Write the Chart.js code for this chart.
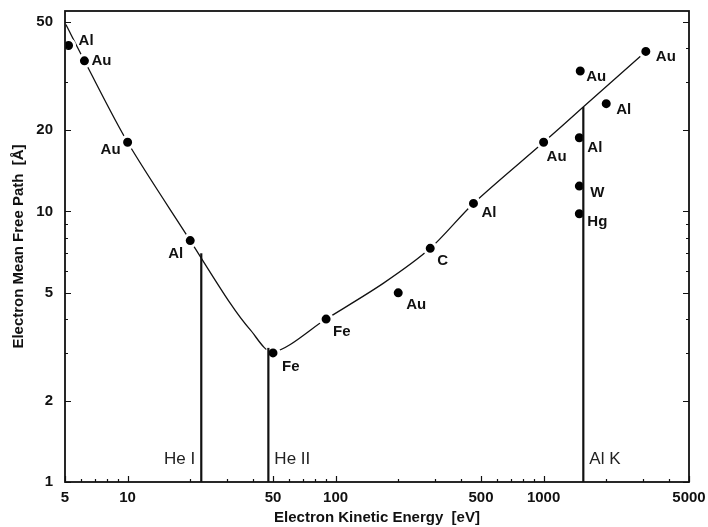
<!DOCTYPE html>
<html>
<head>
<meta charset="utf-8">
<script src="https://cdn.jsdelivr.net/npm/chart.js@4"></script>
<style>
  html, body { margin: 0; padding: 0; background: #fff; }
  #wrap { width: 708px; height: 527px; }
</style>
</head>
<body>
<div id="wrap"><canvas id="c"></canvas></div>
<script>
// universal curve (energy in eV, mean free path in Å)
const curveEnergy = [5.05, 6.2, 10, 20, 31, 39, 50, 90, 170, 285, 460, 1000, 1550, 3100];
const curvePath = [49, 36, 18, 7.8, 4.6, 3.64, 3.02, 4.0, 5.43, 7.3, 10.7, 18, 24.3, 39];

// measured values
const pointEnergy = [5.2, 6.2, 10, 20, 50, 90, 200, 285, 460, 1000, 1500, 2000, 1485, 1485, 1485, 3100];
const pointPath = [41, 36, 18, 7.8, 3.0, 4.0, 5.0, 7.3, 10.7, 18, 33, 25, 18.7, 12.4, 9.8, 39];
const pointElement = ["Al", "Au", "Au", "Al", "Fe", "Fe", "Au", "C", "Al", "Au", "Au", "Al", "Al", "W", "Hg", "Au"];

// photon sources
const sourceNames = ["He I", "He II", "Al K"];
const sourceEnergy = [22.6, 47.5, 1552];
const sourceTop = [7.0, 3.13, 24.3];

const xTicks = [5, 6, 7, 8, 9, 10, 20, 30, 40, 50, 60, 70, 80, 90, 100, 200, 300, 400, 500, 600, 700, 800, 900, 1000, 2000, 3000, 4000, 5000];
const xLabels = [5, 10, 50, 100, 500, 1000, 5000];
const yTicks = [1, 2, 3, 4, 5, 6, 7, 8, 9, 10, 20, 30, 40, 50];
const yLabels = [1, 2, 5, 10, 20, 50];

// label placement next to each dot: [dx, dy, align]
const labelOffsets = [
  [10, -5, "left"], [7, 0, "left"], [-7, 8, "right"], [-7, 13, "right"],
  [9, 14, "left"], [7, 13, "left"], [8, 12, "left"], [7, 13, "left"],
  [8, 9, "left"], [3, 15, "left"], [6, 6, "left"], [10, 6, "left"],
  [8, 10, "left"], [11, 7, "left"], [8, 8, "left"], [10, 5, "left"]
];

const FONT = '"Liberation Sans", Arial, sans-serif';
Chart.defaults.font.family = FONT;
Chart.defaults.color = "#111";

const xy = (xs, ys) => xs.map((x, i) => ({ x, y: ys[i] }));

const datasets = [
  {
    type: "line",
    data: xy(curveEnergy, curvePath),
    borderColor: "#111",
    borderWidth: 1.3,
    pointRadius: 0,
    tension: 0.3,
    order: 3
  },
  {
    type: "scatter",
    data: xy(pointEnergy, pointPath),
    backgroundColor: "#000",
    borderColor: "#fff",
    borderWidth: 3,
    pointRadius: 6,
    order: 2
  }
];
sourceEnergy.forEach((e, i) => {
  datasets.push({
    type: "line",
    data: [{ x: e, y: 1 }, { x: e, y: sourceTop[i] }],
    borderColor: "#111",
    borderWidth: 2.2,
    pointRadius: 0,
    order: 1,
    source: sourceNames[i]
  });
});

const frameTicks = {
  id: "frameTicks",
  afterDraw(chart) {
    const { ctx, chartArea: a, scales: { x, y } } = chart;
    ctx.save();
    ctx.strokeStyle = "#111";
    ctx.lineWidth = 1.2;
    ctx.beginPath();
    x.ticks.forEach((t) => {
      const px = Math.round(x.getPixelForValue(t.value)) + 0.5;
      const len = xLabels.includes(t.value) ? 6 : 3;
      ctx.moveTo(px, a.bottom);
      ctx.lineTo(px, a.bottom - len);
    });
    y.ticks.forEach((t) => {
      const py = Math.round(y.getPixelForValue(t.value)) + 0.5;
      const len = yLabels.includes(t.value) ? 6 : 3;
      ctx.moveTo(a.left, py);
      ctx.lineTo(a.left + len, py);
      ctx.moveTo(a.right, py);
      ctx.lineTo(a.right - len, py);
    });
    ctx.stroke();
    ctx.lineWidth = 1.8;
    ctx.strokeRect(a.left, a.top, a.right - a.left, a.bottom - a.top);
    ctx.restore();
  }
};

const markLabels = {
  id: "markLabels",
  afterDatasetsDraw(chart) {
    const { ctx, chartArea: a } = chart;
    ctx.save();
    ctx.fillStyle = "#111";
    ctx.textBaseline = "middle";
    ctx.font = "bold 15px " + FONT;
    chart.getDatasetMeta(1).data.forEach((pt, i) => {
      const [dx, dy, align] = labelOffsets[i];
      ctx.textAlign = align;
      ctx.fillText(pointElement[i], pt.x + dx, pt.y + dy);
    });
    ctx.font = "17px " + FONT;
    ctx.fillStyle = "#222";
    chart.data.datasets.forEach((ds, di) => {
      if (!ds.source) return;
      const px = chart.getDatasetMeta(di).data[0].x;
      const right = ds.source === "He I";
      ctx.textAlign = right ? "right" : "left";
      ctx.fillText(ds.source, right ? px - 6 : px + 6, a.bottom - 23);
    });
    ctx.restore();
  }
};

new Chart(document.getElementById("c"), {
  data: { datasets },
  options: {
    responsive: true,
    maintainAspectRatio: false,
    animation: false,
    layout: { padding: { top: 11, right: 19, left: 0, bottom: 0 } },
    plugins: { legend: { display: false }, tooltip: { enabled: false } },
    scales: {
      x: {
        type: "logarithmic",
        min: 5,
        max: 5000,
        afterBuildTicks: (s) => { s.ticks = xTicks.map((v) => ({ value: v })); },
        afterFit: (s) => { s.height = 45; s.paddingLeft = 0; s.paddingRight = 0; },
        grid: { display: false, drawTicks: false },
        border: { display: false },
        ticks: {
          autoSkip: false,
          maxRotation: 0,
          padding: 7,
          font: { size: 15, weight: "bold" },
          callback: (v) => (xLabels.includes(v) ? String(v) : "")
        },
        title: {
          display: true,
          text: "Electron Kinetic Energy  [eV]",
          font: { size: 15, weight: "bold", lineHeight: 1.2 },
          padding: 0
        }
      },
      y: {
        type: "logarithmic",
        min: 1,
        max: 55,
        afterBuildTicks: (s) => { s.ticks = yTicks.map((v) => ({ value: v })); },
        afterFit: (s) => { s.width = 65; s.paddingTop = 0; s.paddingBottom = 0; },
        grid: { display: false, drawTicks: false },
        border: { display: false },
        ticks: {
          autoSkip: false,
          padding: 12,
          font: { size: 15, weight: "bold" },
          callback: (v) => (yLabels.includes(v) ? String(v) : "")
        },
        title: {
          display: true,
          text: "Electron Mean Free Path  [Å]",
          font: { size: 15, weight: "bold", lineHeight: 1.2 },
          padding: { top: 10, bottom: 10 }
        }
      }
    }
  },
  plugins: [frameTicks, markLabels]
});
</script>
</body>
</html>
